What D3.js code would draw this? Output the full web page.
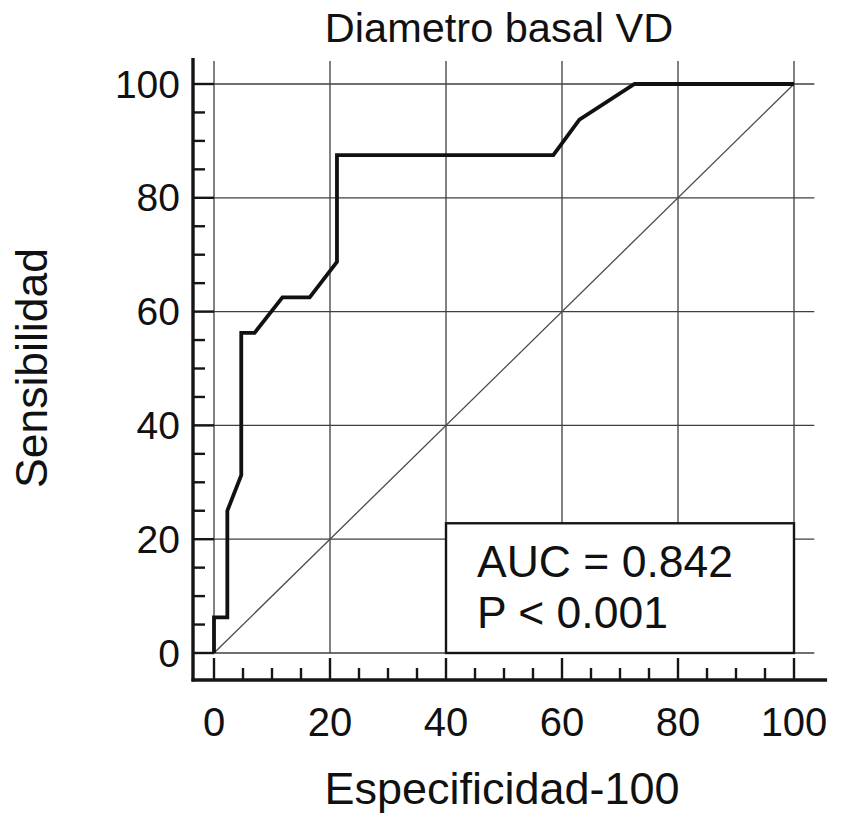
<!DOCTYPE html>
<html>
<head>
<meta charset="utf-8">
<script src="https://cdn.jsdelivr.net/npm/d3@7"></script>
<style>
  html, body { margin: 0; padding: 0; background: #fff; }
  svg { display: block; }
  text { font-family: "Liberation Sans", Arial, sans-serif; fill: #111; }
</style>
</head>
<body>
<svg id="chart" width="842" height="818"></svg>
<script>
// ---- data ----
const title = "Diametro basal VD";
const xLabel = "Especificidad-100";
const yLabel = "Sensibilidad";
const xTicks = [0, 20, 40, 60, 80, 100];
const yTicks = [0, 20, 40, 60, 80, 100];
const rocX = [0, 0, 2.3, 2.3, 4.7, 4.7, 7.0, 11.8, 16.5, 21.2, 21.2, 58.5, 63.0, 72.5, 100];
const rocY = [0, 6.25, 6.25, 25, 31.25, 56.25, 56.25, 62.5, 62.5, 68.75, 87.5, 87.5, 93.75, 100, 100];
const refX = [0, 100];
const refY = [0, 100];
const aucText = ["AUC = 0.842", "P < 0.001"];
const boxRange = { x: [40, 100], y: [0, 22.8] };

// ---- layout ----
const svg = d3.select("#chart");
const x = d3.scaleLinear().domain([0, 100]).range([214, 794]);
const y = d3.scaleLinear().domain([0, 100]).range([653, 84]);
const axisX = 193;   // vertical axis line position
const axisY = 680;   // horizontal axis line position
const ink = "#151515";
const gridCol = "#3f3f3f";

// grid: vertical
svg.append("g").selectAll("line").data(xTicks).join("line")
  .attr("x1", d => x(d)).attr("x2", d => x(d))
  .attr("y1", 61).attr("y2", y(0))
  .attr("stroke", gridCol).attr("stroke-width", 1.3);

// grid: horizontal
svg.append("g").selectAll("line").data(yTicks).join("line")
  .attr("x1", axisX).attr("x2", x(103.5))
  .attr("y1", d => y(d)).attr("y2", d => y(d))
  .attr("stroke", gridCol).attr("stroke-width", 1.3);

// y axis: major ticks (to x=0 gridline), minor ticks
const yMinor = d3.range(0, 101, 5).filter(v => v % 20 !== 0);
svg.append("g").selectAll("line").data(yTicks).join("line")
  .attr("x1", axisX).attr("x2", x(0))
  .attr("y1", d => y(d)).attr("y2", d => y(d))
  .attr("stroke", ink).attr("stroke-width", 2.4);
svg.append("g").selectAll("line").data(yMinor).join("line")
  .attr("x1", axisX).attr("x2", axisX + 12)
  .attr("y1", d => y(d)).attr("y2", d => y(d))
  .attr("stroke", ink).attr("stroke-width", 2.4);

// x axis: major & minor ticks pointing up
const xMinor = d3.range(0, 101, 5).filter(v => v % 20 !== 0);
svg.append("g").selectAll("line").data(xTicks).join("line")
  .attr("x1", d => x(d)).attr("x2", d => x(d))
  .attr("y1", axisY).attr("y2", axisY - 22)
  .attr("stroke", ink).attr("stroke-width", 2.4);
svg.append("g").selectAll("line").data(xMinor).join("line")
  .attr("x1", d => x(d)).attr("x2", d => x(d))
  .attr("y1", axisY).attr("y2", axisY - 12)
  .attr("stroke", ink).attr("stroke-width", 2.4);

// axis lines
svg.append("line").attr("x1", axisX).attr("x2", axisX)
  .attr("y1", 58).attr("y2", axisY + 1.5)
  .attr("stroke", ink).attr("stroke-width", 3.4);
svg.append("line").attr("x1", axisX - 1.5).attr("x2", x(105.7))
  .attr("y1", axisY).attr("y2", axisY)
  .attr("stroke", ink).attr("stroke-width", 3.4);

// tick labels
svg.append("g").selectAll("text").data(yTicks).join("text")
  .attr("x", 180).attr("y", d => y(d))
  .attr("text-anchor", "end").attr("dominant-baseline", "central")
  .attr("font-size", 39).text(d => d);
svg.append("g").selectAll("text").data(xTicks).join("text")
  .attr("x", d => x(d)).attr("y", 736)
  .attr("text-anchor", "middle")
  .attr("font-size", 40).text(d => d);

// reference diagonal
const line = d3.line().x(d => x(d[0])).y(d => y(d[1]));
svg.append("path").datum(d3.zip(refX, refY))
  .attr("d", line).attr("fill", "none")
  .attr("stroke", "#4a4a4a").attr("stroke-width", 1.3);

// ROC curve
svg.append("path").datum(d3.zip(rocX, rocY))
  .attr("d", line).attr("fill", "none")
  .attr("stroke", "#111").attr("stroke-width", 3.8)
  .attr("stroke-linejoin", "miter");

// AUC box
svg.append("rect")
  .attr("x", x(boxRange.x[0])).attr("y", y(boxRange.y[1]))
  .attr("width", x(boxRange.x[1]) - x(boxRange.x[0]))
  .attr("height", y(boxRange.y[0]) - y(boxRange.y[1]))
  .attr("fill", "#fff").attr("stroke", ink).attr("stroke-width", 2.4);
svg.append("g").selectAll("text").data(aucText).join("text")
  .attr("x", x(boxRange.x[0]) + 31)
  .attr("y", (d, i) => 577 + i * 51)
  .attr("font-size", 44.5).text(d => d);

// titles
svg.append("text").attr("x", 499).attr("y", 42)
  .attr("text-anchor", "middle").attr("font-size", 41.5).text(title);
svg.append("text").attr("x", 502).attr("y", 804)
  .attr("text-anchor", "middle").attr("font-size", 45).text(xLabel);
svg.append("text")
  .attr("transform", "translate(47,368) rotate(-90)")
  .attr("text-anchor", "middle").attr("font-size", 44.5).text(yLabel);
</script>
</body>
</html>
